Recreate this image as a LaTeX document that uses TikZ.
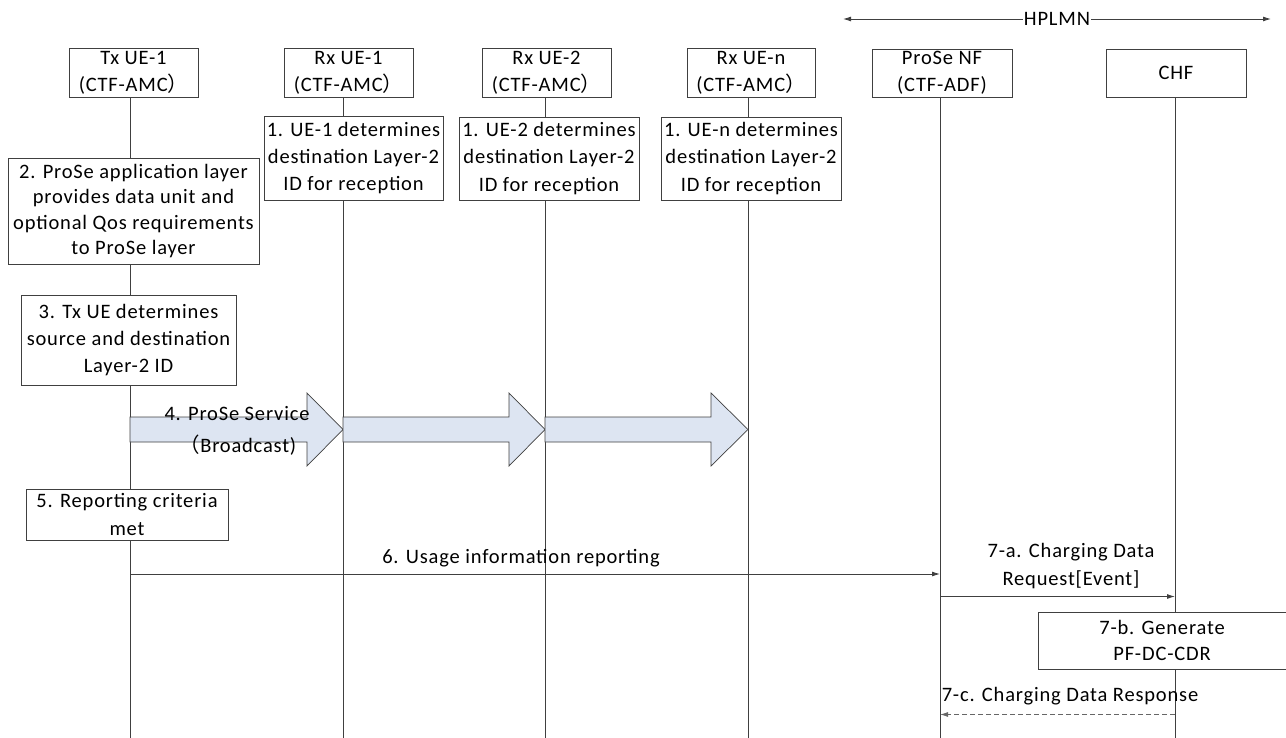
\documentclass[tikz,border=0pt]{standalone}
\usepackage{fontspec}
\setmainfont{Carlito}[LetterSpace=4]
\newfontfamily\cjk{Noto Sans CJK SC}
\usetikzlibrary{arrows.meta,backgrounds}
\definecolor{bcast}{HTML}{DDE5F2}
\definecolor{ln}{HTML}{404040}
\begin{document}
\begin{tikzpicture}[x=1pt,y=-1pt,
  font=\fontsize{20.5}{27.3}\selectfont,
  line/.style={draw=ln, line width=0.9pt},
  box/.style={draw=ln, line width=0.9pt, fill=white, align=center, inner sep=0pt},
  msg/.style={draw=ln, line width=0.9pt, -{Latex[length=8pt,width=5pt]}},
  rsp/.style={draw=ln!80, line width=0.9pt, dash pattern=on 5pt off 3pt, -{Latex[length=8pt,width=5pt]}},
  lbl/.style={align=center, inner sep=0pt},
  bigarrow/.style={draw=ln, line width=0.7pt, fill=bcast}]
\useasboundingbox (0,0) rectangle (1286,738);

% HPLMN
\node[lbl, fill=white, inner xsep=1pt] (hp) at (1057,19) {HPLMN};
\coordinate (hpl) at (843,19);
\coordinate (hpr) at (1271,19);
\draw[msg] (hp.west) -- (hpl);
\draw[msg] (hp.east) -- (hpr);

% headers
\node[box, minimum width=129pt, minimum height=49pt] (h1) at (133.5,72.5) {Tx UE-1\\(CTF-AMC{\cjk ）}};
\node[box, minimum width=129pt, minimum height=49pt] (h2) at (348.5,72.5) {Rx UE-1\\(CTF-AMC{\cjk ）}};
\node[box, minimum width=129pt, minimum height=49pt] (h3) at (546.5,72.5) {Rx UE-2\\(CTF-AMC{\cjk ）}};
\node[box, minimum width=128pt, minimum height=49pt] (h4) at (751,72.5) {Rx UE-n\\(CTF-AMC{\cjk ）}};
\node[box, minimum width=140pt, minimum height=48pt] (h5) at (942,73) {ProSe NF\\(CTF-ADF)};
\node[box, minimum width=140pt, minimum height=48pt] (h6) at (1176,73) {CHF};

% lifeline ends
\coordinate (e1) at (130,738);
\coordinate (e2) at (343,738);
\coordinate (e3) at (545,738);
\coordinate (e4) at (748,738);
\coordinate (e5) at (940,738);
\coordinate (e6) at (1175,738);

% step boxes
\node[box, minimum width=179pt, minimum height=84pt] (s1a) at (353.5,158) {1. UE-1 determines\\destination Layer-2\\ID for reception};
\node[box, minimum width=180pt, minimum height=83pt] (s1b) at (549,158.5) {1. UE-2 determines\\destination Layer-2\\ID for reception};
\node[box, minimum width=180pt, minimum height=83pt] (s1c) at (751,158.5) {1. UE-n determines\\destination Layer-2\\ID for reception};
\node[box, minimum width=251pt, minimum height=106pt, font=\fontsize{20.5}{25.5}\selectfont] (s2) at (133.5,211) {2. ProSe application layer\\provides data unit and\\optional Qos requirements\\to ProSe layer};
\node[box, minimum width=215pt, minimum height=90pt] (s3) at (128.5,340) {3. Tx UE determines\\source and destination\\Layer-2 ID};
\node[box, minimum width=202pt, minimum height=51pt] (s5) at (127,514.5) {5. Reporting criteria\\met};
\node[box, minimum width=248pt, minimum height=57pt, font=\fontsize{20.5}{26.5}\selectfont] (s7b) at (1162,640.5) {7-b. Generate\\PF-DC-CDR};

% lifelines behind
\begin{scope}[on background layer]
\draw[line] (h1.south -| e1) -- (e1);
\draw[line] (h2.south -| e2) -- (e2);
\draw[line] (h3.south -| e3) -- (e3);
\draw[line] (h4.south -| e4) -- (e4);
\draw[line] (h5.south -| e5) -- (e5);
\draw[line] (h6.south -| e6) -- (e6);
\end{scope}

% broadcast arrows
\draw[bigarrow] (130,417) -- (307,417) -- (307,393) -- (343,429.5) -- (307,466) -- (307,442) -- (130,442) -- cycle;
\draw[bigarrow] (343,417) -- (509,417) -- (509,393) -- (545,429.5) -- (509,466) -- (509,442) -- (343,442) -- cycle;
\draw[bigarrow] (545,417) -- (711,417) -- (711,393) -- (748,429.5) -- (711,466) -- (711,442) -- (545,442) -- cycle;
\node[lbl] (l4a) at (237,414) {4. ProSe Service};
\node[lbl] (l4b) at (238,445) {{\cjk （}Broadcast)};

% message 6
\coordinate (m6s) at (130,574);
\coordinate (m6e) at (940,574);
\draw[msg] (m6s) -- (m6e);
\node[lbl] (l6) at (521,558) {6. Usage information reporting};

% message 7-a
\coordinate (m7as) at (940,596.5);
\coordinate (m7ae) at (1175,596.5);
\draw[msg] (m7as) -- (m7ae);
\node[lbl] (l7a) at (1071,566) {7-a. Charging Data\\Request[Event]};

% message 7-c
\coordinate (m7cs) at (1175,714.5);
\coordinate (m7ce) at (940,714.5);
\draw[rsp] (m7cs) -- (m7ce);
\node[lbl] (l7c) at (1070,696) {7-c. Charging Data Response};
\end{tikzpicture}
\end{document}
